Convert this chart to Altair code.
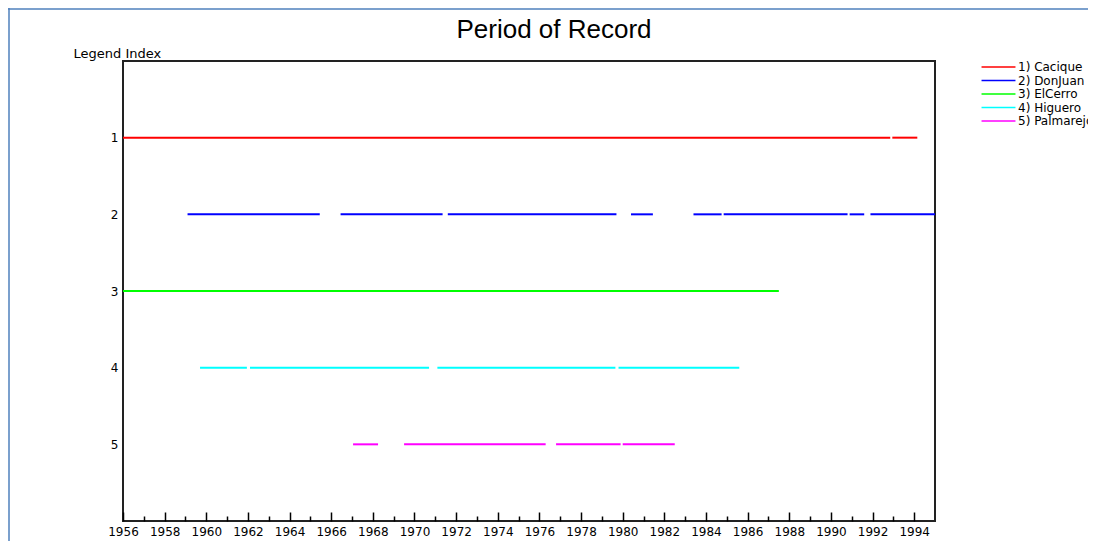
import altair as alt
import pandas as pd

# ---- data ----
series_names = ["1) Cacique", "2) DonJuan", "3) ElCerro", "4) Higuero", "5) Palmarejo"]
series_colors = ["#ff0000", "#0000ff", "#00ff00", "#00ffff", "#ff00ff"]

seg_index = [1, 1,
             2, 2, 2, 2, 2, 2, 2, 2,
             3,
             4, 4, 4, 4,
             5, 5, 5, 5]
seg_start = [1956.0, 1992.95,
             1959.1, 1966.45, 1971.6, 1980.4, 1983.4, 1984.85, 1990.9, 1991.9,
             1956.0,
             1959.7, 1962.1, 1971.1, 1979.8,
             1967.05, 1969.5, 1976.8, 1980.0]
seg_end = [1992.85, 1994.15,
           1965.45, 1971.35, 1979.7, 1981.45, 1984.75, 1990.8, 1991.6, 1995.0,
           1987.5,
           1961.95, 1970.7, 1979.65, 1985.6,
           1968.25, 1976.3, 1979.9, 1982.5]

major_years = list(range(1956, 1995, 2))
minor_years = list(range(1957, 1995, 2))
y_ticks = [1, 2, 3, 4, 5]

df = pd.DataFrame({
    "idx": seg_index,
    "start": seg_start,
    "end": seg_end,
    "series": [series_names[i - 1] for i in seg_index],
})

x_scale = alt.Scale(domain=[1956, 1995], nice=False, zero=False)
y_scale = alt.Scale(domain=[0, 6], reverse=True, nice=False, zero=False)

FONT = "DejaVu Sans"

main = alt.Chart(df).mark_rule(strokeWidth=2, clip=True).encode(
    x=alt.X("start:Q", scale=x_scale,
            axis=alt.Axis(orient="bottom", values=major_years, format="d",
                          tickSize=9, offset=-9, labelOverlap=False, labelFlush=False,
                          domain=False, grid=False, labelPadding=5, title=None,
                          tickColor="black", tickWidth=1.5,
                          labelFont=FONT, labelFontSize=12, labelColor="black")),
    x2="end:Q",
    y=alt.Y("idx:Q", scale=y_scale,
            axis=alt.Axis(values=y_ticks, ticks=False, domain=False, grid=False,
                          labelPadding=5, labelFont=FONT, labelFontSize=12,
                          labelColor="black",
                          title="Legend Index", titleAngle=0, titleAlign="left",
                          titleBaseline="alphabetic", titleX=-50, titleY=-4,
                          titleFont=FONT, titleFontSize=13, titleFontWeight="normal",
                          titleColor="black")),
    color=alt.Color("series:N",
                    scale=alt.Scale(domain=series_names, range=series_colors),
                    legend=alt.Legend(title=None, orient="none", legendX=869, legendY=-0.5,
                                      symbolType="M-3,0H3", symbolSize=128,
                                      symbolStrokeWidth=1.5, labelOffset=13,
                                      rowPadding=0.5, padding=0,
                                      labelFont=FONT, labelFontSize=12,
                                      labelColor="black")),
)

minor = alt.Chart(df).mark_rule(opacity=0).encode(
    x=alt.X("start:Q", scale=x_scale,
            axis=alt.Axis(orient="bottom", values=minor_years, labels=False,
                          tickSize=5, offset=-5,
                          domain=False, grid=False, title=None,
                          tickColor="black", tickWidth=1.5)),
)

frame_df = pd.DataFrame({"k": [0]})
border_top = alt.Chart(frame_df).mark_rule(color="#4f81bd", strokeWidth=1.5).encode(
    x=alt.value(-115), x2=alt.value(970), y=alt.value(-52)
)
border_left = alt.Chart(frame_df).mark_rule(color="#4f81bd", strokeWidth=1.5).encode(
    x=alt.value(-114), y=alt.value(-53), y2=alt.value(480)
)

chart = alt.layer(main, minor, border_top, border_left).resolve_axis(
    x="independent"
).properties(
    width=812, height=460,
    autosize=alt.AutoSizeParams(type="none"),
    padding={"left": 115, "top": 53, "right": 153, "bottom": 24},
    title=alt.Title("Period of Record", font="Liberation Sans", fontSize=26,
                    fontWeight="normal", color="black", anchor="middle",
                    baseline="alphabetic", dx=25, dy=67, offset=10),
).configure(
    background="white",
    view=alt.ViewConfig(stroke="#222222", strokeWidth=2),
)

chart.save("out.html", embed_options={"renderer": "svg", "actions": False})
